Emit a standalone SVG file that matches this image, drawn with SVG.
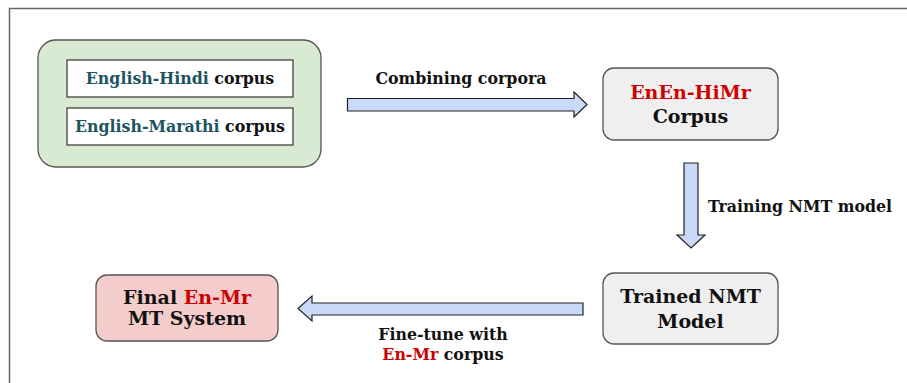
<svg xmlns="http://www.w3.org/2000/svg" width="907" height="383" viewBox="0 0 907 383">
<style>
text{font-family:"DejaVu Serif","Liberation Serif",serif;font-weight:bold;fill:#111;text-anchor:middle}
.s{font-size:15.8px}
.n{font-size:19px}
.t{fill:#1d5462}
.r{fill:#cc0000}
.arr{fill:#c9daf8;stroke:#222;stroke-width:1.2}
.box{stroke:#555;stroke-width:1.3}
</style>
<rect width="907" height="383" fill="#fff"/>
<path d="M9.5 383 V8.5 H907" fill="none" stroke="#666" stroke-width="1.5"/>
<g id="corpora">
<rect class="box" x="38" y="40" width="283" height="127" rx="18" fill="#d9ead3"/>
<g id="en-hi">
<rect x="67" y="60" width="226" height="37" fill="#fff" stroke="#333" stroke-width="1.2"/>
<text class="s" x="180" y="84"><tspan class="t">English-Hindi</tspan> corpus</text>
</g>
<g id="en-mr">
<rect x="67" y="108" width="226" height="37" fill="#fff" stroke="#333" stroke-width="1.2"/>
<text class="s" x="180" y="132"><tspan class="t">English-Marathi</tspan> corpus</text>
</g>
</g>
<g id="combined">
<rect class="box" x="603" y="68" width="175" height="72" rx="11" fill="#efefef"/>
<text class="n" x="690.5" y="99"><tspan class="r">EnEn-HiMr</tspan></text>
<text class="n" x="690.5" y="123">Corpus</text>
</g>
<g id="trained">
<rect class="box" x="603" y="273" width="175" height="71" rx="11" fill="#efefef"/>
<text class="n" x="690.5" y="303">Trained NMT</text>
<text class="n" x="690.5" y="328">Model</text>
</g>
<g id="final">
<rect class="box" x="96" y="275" width="182" height="66" rx="11" fill="#f4cccc"/>
<text class="n" x="187" y="304">Final <tspan class="r">En-Mr</tspan></text>
<text class="n" x="187" y="325">MT System</text>
</g>
<g id="connectors">
<path class="arr" d="M347.5 98.5 H574 V92 L587 104.5 L574 117 V111 H347.5 Z"/>
<text class="s" x="461" y="84">Combining corpora</text>
<path class="arr" d="M684 163 H698 V235 H705 L691 248 L677 235 H684 Z"/>
<text class="s" x="800" y="212">Training NMT model</text>
<path class="arr" d="M583 303 H312 V296 L298 308.5 L312 321 V315 H583 Z"/>
<text class="s" x="443" y="340">Fine-tune with</text>
<text class="s" x="443" y="360"><tspan class="r">En-Mr</tspan> corpus</text>
</g>
</svg>
